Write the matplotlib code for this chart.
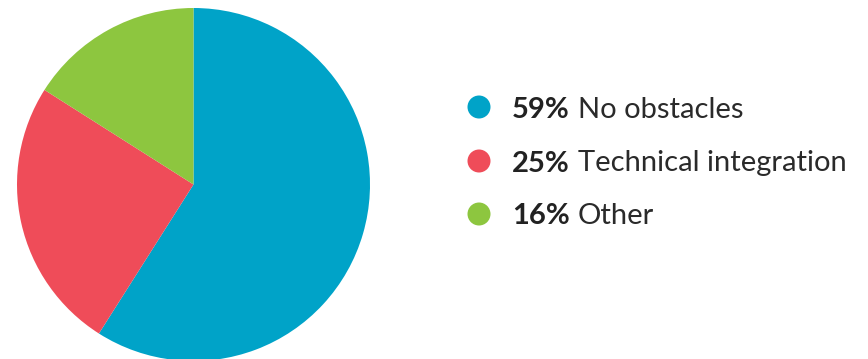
import matplotlib
matplotlib.use("Agg")
import matplotlib.pyplot as plt
from matplotlib.patches import Ellipse

W, H = 868, 359
DPI = 100

labels = ["No obstacles", "Technical integration", "Other"]
shares = [59, 25, 16]
colors = ["#00A3C8", "#EF4C59", "#8DC63F"]

fig = plt.figure(figsize=(W / DPI, H / DPI), dpi=DPI)
fig.patch.set_facecolor("white")

# pie axes, placed in pixel units
cx, cy, r = 193.5, 184.5, 176.5
ax = fig.add_axes([(cx - r) / W, (H - cy - r) / H, 2 * r / W, 2 * r / H])
ax.pie(shares, colors=colors, startangle=90, counterclock=False, radius=1,
       wedgeprops=dict(linewidth=0))
ax.set_xlim(-1, 1)
ax.set_ylim(-1, 1)
ax.set_aspect("equal")
ax.axis("off")

# legend drawn in a full-figure pixel axes
lax = fig.add_axes([0, 0, 1, 1])
lax.set_xlim(0, W)
lax.set_ylim(H, 0)
lax.axis("off")

row_y = [107, 161, 214]
dot_x, text_x = 479, 512
fs = 21
fig.canvas.draw()
renderer = fig.canvas.get_renderer()
for lab, val, col, y in zip(labels, shares, colors, row_y):
    lax.add_patch(Ellipse((dot_x, y), 23, 23, color=col, lw=0))
    t = lax.text(text_x, y, f"{val}%", fontsize=fs, fontweight="bold",
                 family="Lato", color="#222222", va="center_baseline")
    bb = t.get_window_extent(renderer=renderer)
    lax.text(bb.x1 + 8, y, lab, fontsize=fs, family="Lato",
             color="#2a2a2a", va="center_baseline")

fig.savefig("out.png", dpi=DPI, facecolor="white")
